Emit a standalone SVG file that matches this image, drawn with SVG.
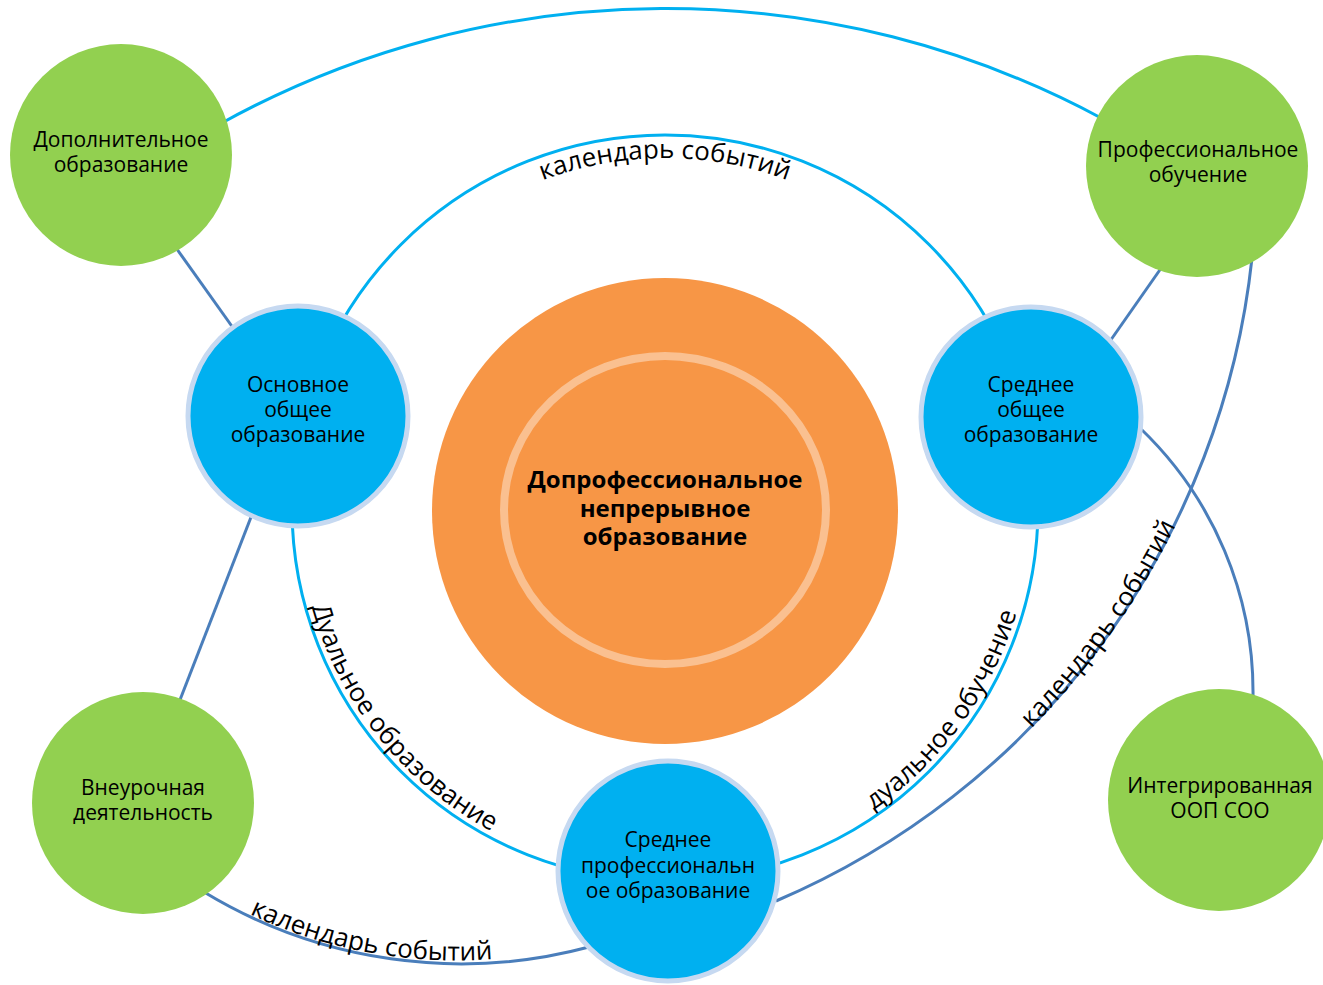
<svg xmlns="http://www.w3.org/2000/svg" width="1323" height="985" viewBox="0 0 1323 985">
<style>
.cy{fill:none;stroke:#00B0F0;stroke-width:3}
.db{fill:none;stroke:#4A7EBB;stroke-width:3}
.gn{fill:#92D050}
.bl{fill:#00B0F0;stroke:#C6D9F1;stroke-width:5}
.t{font-family:"Open Sans","Noto Sans","DejaVu Sans",sans-serif;font-size:21px;fill:#000;text-anchor:middle}
.tb{font-family:"Open Sans","Noto Sans","DejaVu Sans",sans-serif;font-size:24px;font-weight:bold;fill:#000;text-anchor:middle}
.lb{font-family:"Open Sans","Noto Sans","DejaVu Sans",sans-serif;font-size:26px;fill:#000;text-anchor:middle}
</style>
<defs>
<path id="tpTop" d="M 315,508 A 350 350 0 0 1 1015,508"/>
<path id="tpLL" d="M 298,508 A 367 367 0 0 0 665,875"/>
<path id="tpLR" d="M 665,875 A 367 367 0 0 0 1032,508"/>
<path id="tpPR" d="M 778,900 A 782 782 0 0 0 1252,263"/>
<path id="tpBot" d="M 208,892 A 484 484 0 0 0 585,943"/>
</defs>
<rect width="1323" height="985" fill="#FFFFFF"/>
<g id="connectors">
<circle class="cy" cx="665" cy="508" r="373"/>
<path class="cy" d="M 220,124 A 919 919 0 0 1 1103,119"/>
<line class="db" x1="174" y1="245" x2="236" y2="332"/>
<line class="db" x1="253" y1="512" x2="178" y2="705"/>
<line class="db" x1="1164" y1="264" x2="1108" y2="344"/>
<path class="db" d="M 1140,428 A 365 365 0 0 1 1253,697"/>
<path class="db" d="M 1252,258 A 790 790 0 0 1 776,901"/>
<path class="db" d="M 204,892 A 496 496 0 0 0 589,947"/>
<text class="lb"><textPath href="#tpTop" startOffset="50%">календарь событий</textPath></text>
<text class="lb"><textPath href="#tpLL" startOffset="43%">Дуальное образование</textPath></text>
<text class="lb"><textPath href="#tpLR" startOffset="60%">дуальное обучение</textPath></text>
<text class="lb"><textPath href="#tpPR" startOffset="52%">календарь событий</textPath></text>
<text class="lb"><textPath href="#tpBot" startOffset="44%">календарь событий</textPath></text>
</g>
<g id="center">
<circle cx="665" cy="511" r="233" fill="#F79646"/>
<ellipse cx="665" cy="510" rx="161" ry="154" fill="none" stroke="#FAC090" stroke-width="8"/>
<text class="tb" x="665" y="488">Допрофессиональное</text>
<text class="tb" x="665" y="517">непрерывное</text>
<text class="tb" x="665" y="545">образование</text>
</g>
<g id="dop">
<circle class="gn" cx="121" cy="155" r="111"/>
<text class="t" x="121" y="147">Дополнительное</text>
<text class="t" x="121" y="172">образование</text>
</g>
<g id="prof">
<circle class="gn" cx="1197" cy="166" r="111"/>
<text class="t" x="1198" y="157">Профессиональное</text>
<text class="t" x="1198" y="182">обучение</text>
</g>
<g id="vneur">
<circle class="gn" cx="143" cy="803" r="111"/>
<text class="t" x="143" y="795">Внеурочная</text>
<text class="t" x="143" y="820">деятельность</text>
</g>
<g id="integr">
<circle class="gn" cx="1219" cy="800" r="111"/>
<text class="t" x="1220" y="793">Интегрированная</text>
<text class="t" x="1220" y="818">ООП СОО</text>
</g>
<g id="osn">
<circle class="bl" cx="298" cy="416" r="110"/>
<text class="t" x="298" y="392">Основное</text>
<text class="t" x="298" y="417">общее</text>
<text class="t" x="298" y="442">образование</text>
</g>
<g id="sred">
<circle class="bl" cx="1031" cy="417" r="110"/>
<text class="t" x="1031" y="392">Среднее</text>
<text class="t" x="1031" y="417">общее</text>
<text class="t" x="1031" y="442">образование</text>
</g>
<g id="spo">
<circle class="bl" cx="668" cy="871" r="110"/>
<text class="t" x="668" y="847">Среднее</text>
<text class="t" x="668" y="873">профессиональн</text>
<text class="t" x="668" y="898">ое образование</text>
</g>
</svg>
